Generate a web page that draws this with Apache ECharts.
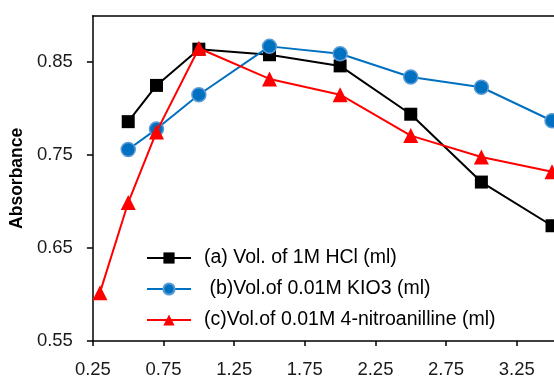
<!DOCTYPE html>
<html><head><meta charset="utf-8">
<script src="https://cdn.jsdelivr.net/npm/echarts@6/dist/echarts.min.js"></script>
<style>html,body{margin:0;padding:0;background:#fff;overflow:hidden}#c{width:554px;height:379px}</style>
</head><body><div id="c"></div>
<script>
var seriesNames = ['(a) Vol. of 1M HCl (ml)', ' (b)Vol.of 0.01M KIO3 (ml)', '(c)Vol.of 0.01M 4-nitroanilline (ml)'];
var xA = [0.5, 0.7, 1.0, 1.5, 2.0, 2.5, 3.0, 3.5];
var yA = [0.786, 0.825, 0.864, 0.858, 0.846, 0.794, 0.721, 0.674];
var xB = [0.5, 0.7, 1.0, 1.5, 2.0, 2.5, 3.0, 3.5];
var yB = [0.756, 0.778, 0.815, 0.867, 0.859, 0.834, 0.823, 0.787];
var xC = [0.3, 0.5, 0.7, 1.0, 1.5, 2.0, 2.5, 3.0, 3.5];
var yC = [0.602, 0.699, 0.775, 0.865, 0.832, 0.815, 0.771, 0.748, 0.732];
var xTicks = [0.25, 0.75, 1.25, 1.75, 2.25, 2.75, 3.25];
var yTicks = [0.55, 0.65, 0.75, 0.85];

function pairs(xs, ys) { return xs.map(function (x, i) { return [x, ys[i]]; }); }
var FONT = 'Liberation Sans';
var X_MIN = 0.25, X_MAX = 3.514;
var chart = echarts.init(document.getElementById('c'), null, {renderer: 'canvas'});
chart.setOption({
  animation: false,
  backgroundColor: '#fff',
  grid: {left: 92.5, top: 15.7, bottom: 36.3, right: 0, show: false},
  xAxis: [{
    type: 'value', min: X_MIN, max: X_MAX, interval: 0.5,
    axisLine: {show: true, lineStyle: {color: '#000', width: 1.5}},
    axisTick: {show: true, length: 5, lineStyle: {color: '#000', width: 1.5}, customValues: xTicks},
    axisLabel: {color: '#1a1a1a', fontFamily: FONT, fontSize: 18.5, margin: 19, customValues: xTicks,
      formatter: function (v) { return v.toFixed(2); }},
    splitLine: {show: false}
  }, {
    type: 'value', position: 'top', min: X_MIN, max: X_MAX,
    axisLine: {show: true, lineStyle: {color: '#000', width: 1.5}},
    axisTick: {show: false}, axisLabel: {show: false}, splitLine: {show: false}
  }],
  yAxis: {
    type: 'value', min: 0.55, max: 0.9, interval: 0.1,
    name: 'Absorbance', nameLocation: 'middle', nameGap: 59, nameRotate: 90,
    nameTextStyle: {color: '#000', fontFamily: FONT, fontSize: 17.5, fontWeight: 'bold'},
    axisLine: {show: true, lineStyle: {color: '#000', width: 1.5}},
    axisTick: {show: true, length: 6, lineStyle: {color: '#000', width: 1.5}, customValues: yTicks},
    axisLabel: {color: '#1a1a1a', fontFamily: FONT, fontSize: 18.5, margin: 20, customValues: yTicks,
      formatter: function (v) { return v.toFixed(2); }},
    splitLine: {show: false}
  },
  legend: {
    orient: 'vertical', left: 146, top: 248, padding: 0, itemWidth: 44, itemHeight: 14, itemGap: 11,
    textStyle: {color: '#000', fontFamily: FONT, fontSize: 19.5, padding: [0, 0, 0, 8]},
    data: seriesNames
  },
  series: [
    {name: seriesNames[0], type: 'line', data: pairs(xA, yA), symbol: 'rect', symbolSize: 13,
      lineStyle: {color: '#000', width: 2}, itemStyle: {color: '#000'}, z: 3},
    {name: seriesNames[1], type: 'line', data: pairs(xB, yB), symbol: 'circle', symbolSize: 14,
      lineStyle: {color: '#0070C0', width: 2}, itemStyle: {color: '#0070C0', borderColor: '#5B9BD5', borderWidth: 1.5}, z: 4},
    {name: seriesNames[2], type: 'line', data: pairs(xC, yC), symbol: 'triangle', symbolSize: 15,
      lineStyle: {color: '#FF0000', width: 2}, itemStyle: {color: '#FF0000'}, z: 5}
  ]
});
</script></body></html>
